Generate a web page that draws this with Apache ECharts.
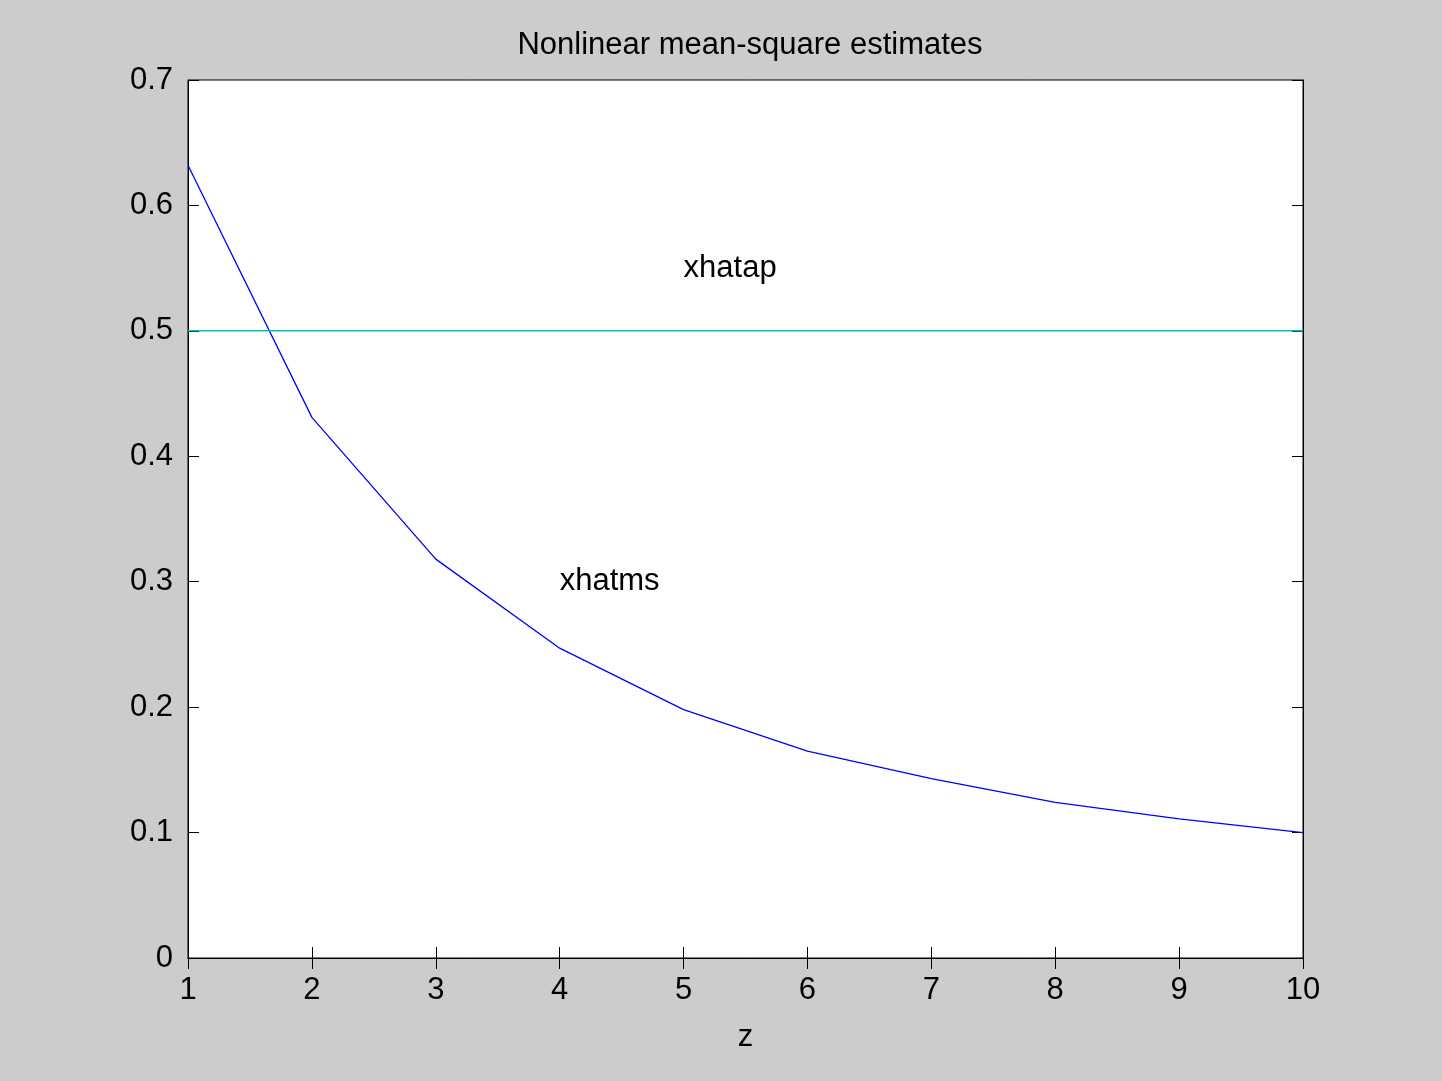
<!DOCTYPE html>
<html>
<head>
<meta charset="utf-8">
<script src="https://cdn.jsdelivr.net/npm/echarts@6/dist/echarts.min.js"></script>
<style>
html,body{margin:0;padding:0;background:#cccccc;}
#main{width:1442px;height:1081px;}
</style>
</head>
<body>
<div id="main"></div>
<script>
var zVals=[1,2,3,4,5,6,7,8,9,10];
var xhatms=[0.632,0.431,0.318,0.247,0.198,0.165,0.143,0.124,0.111,0.100];
var xhatap=[0.5,0.5,0.5,0.5,0.5,0.5,0.5,0.5,0.5,0.5];
var notes=[[5,0.55,'xhatap'],[4,0.3,'xhatms']];

var font='Liberation Sans, Arial, sans-serif';
var fs=31;
var myChart=echarts.init(document.getElementById('main'));

function pairs(xs,ys){
	var out=[];
	for(var i=0;i<xs.length;i++){out.push([xs[i],ys[i]]);}
	return out;
}

var tickStyle={show:true,inside:true,length:11,lineStyle:{color:'#000',width:1}};
var lineStyle={show:true,lineStyle:{color:'#000',width:1}};
var noteLabel={show:true,position:'right',distance:0,color:'#000',opacity:1,textBorderWidth:0,fontSize:fs,fontFamily:font};

option={
	backgroundColor:'#cccccc',
	animation:false,
	title:{
		text:'Nonlinear mean-square estimates',
		left:745,
		textAlign:'center',
		top:25,
		textStyle:{color:'#000',fontWeight:'normal',fontSize:fs,fontFamily:font}
	},
	grid:{left:188,top:80,width:1115,height:878,show:true,backgroundColor:'#fff',borderColor:'#000',borderWidth:1},
	xAxis:[
		{
			type:'value',min:1,max:10,interval:1,
			name:'z',nameLocation:'middle',nameGap:64,
			nameTextStyle:{color:'#000',fontSize:fs,fontFamily:font},
			axisLine:lineStyle,axisTick:tickStyle,splitLine:{show:false},
			axisLabel:{color:'#000',fontSize:fs,fontFamily:font,margin:17}
		},
		{
			type:'value',min:1,max:10,interval:1,position:'top',
			axisLine:lineStyle,axisTick:tickStyle,splitLine:{show:false},
			axisLabel:{show:false}
		}
	],
	yAxis:[
		{
			type:'value',min:0,max:0.7,interval:0.1,
			axisLine:lineStyle,axisTick:tickStyle,splitLine:{show:false},
			axisLabel:{color:'#000',fontSize:fs,fontFamily:font,margin:15}
		},
		{
			type:'value',min:0,max:0.7,interval:0.1,position:'right',
			axisLine:lineStyle,axisTick:tickStyle,splitLine:{show:false},
			axisLabel:{show:false}
		}
	],
	series:[
		{
			name:'xhatms',type:'line',data:pairs(zVals,xhatms),
			symbol:'none',lineStyle:{color:'#0000ff',width:1.3}
		},
		{
			name:'xhatap',type:'line',data:pairs(zVals,xhatap),
			symbol:'none',lineStyle:{color:'#00bfbf',width:1.5}
		},
		{
			name:'notes',type:'scatter',symbolSize:0,silent:true,
			itemStyle:{color:'#000'},
			data:notes.map(function(n){
				return {value:[n[0],n[1]],label:Object.assign({},noteLabel,{formatter:n[2]})};
			}),
			label:noteLabel
		}
	]
};

myChart.setOption(option);
window.onresize=myChart.resize;
</script>
</body>
</html>
